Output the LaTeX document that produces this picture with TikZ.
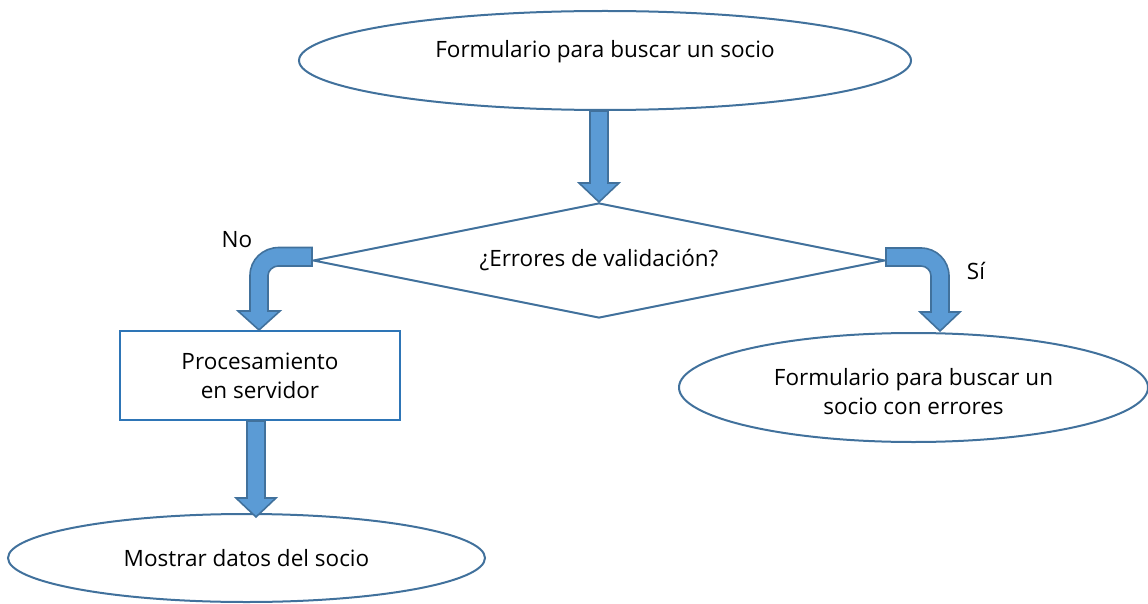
\documentclass[tikz,border=0pt]{standalone}
\usepackage{fontspec}
\setmainfont{Open Sans}
\usetikzlibrary{calc}
\usetikzlibrary{shapes.geometric}
\usepackage{xcolor}

\definecolor{lineblue}{HTML}{41719C}
\definecolor{fillblue}{HTML}{5B9BD5}
\definecolor{boxblue}{HTML}{2E75B6}

% vertical block arrow: shaft from #1 down to the tip at the height of #2
\newcommand{\blockdown}[2]{%
  \path[blockarrow] let \p1=(#1), \p2=(#2) in
    (\x1-9pt,\y1) -- (\x1-9pt,\y2+19pt) -- (\x1-20pt,\y2+19pt) -- (\x1,\y2)
    -- (\x1+20pt,\y2+19pt) -- (\x1+9pt,\y2+19pt) -- (\x1+9pt,\y1) -- cycle;}

\begin{document}
\begin{tikzpicture}[x=1pt, y=-1pt,
  every node/.style={font=\fontsize{22.5}{29}\selectfont, align=center, text=black},
  oval/.style={ellipse, draw=lineblue, line width=2pt, inner sep=0},
  decision/.style={diamond, aspect=5, draw=lineblue, line width=2pt, inner sep=0},
  process/.style={rectangle, draw=boxblue, line width=2pt, inner sep=0},
  blockarrow/.style={fill=fillblue, draw=lineblue, line width=1.6pt, line join=miter}]
\useasboundingbox (0,0) rectangle (1148,604);

\node[oval, minimum width=612pt, minimum height=99pt,
      label={[yshift=9pt]center:Formulario para buscar un socio}] (form) at (605,60.5) {};
\node[decision, minimum width=572pt, minimum height=115pt] (check) at (599,260.5) {¿Errores de validación?};
\node[process, minimum width=280pt, minimum height=89pt] (proc) at (260,375.5) {Procesamiento\\en servidor};
\node[oval, minimum width=469pt, minimum height=109pt,
      label={[yshift=-4pt]center:Formulario para buscar un\\socio con errores}] (sierr) at (913.5,387.5) {};
\node[oval, minimum width=477pt, minimum height=88pt] (show) at (246.5,558) {Mostrar datos del socio};

\node (no) at (237,240) {No};
\node (si) at (976,271) {Sí};

\blockdown{form.south -| check.north}{check.north}
\blockdown{$(proc.south)+(-4,0)$}{$(show.north)+(0,4)$}

% No: bent arrow down to the processing box
\path[blockarrow] let \p1=(check.west), \p2=(proc.north) in
  (\x1,\y1+13pt) -- (\x2+19pt,\y1+13pt)
  .. controls (\x2+3pt,\y1+13pt) and (\x2-10pt,\y1+1pt) .. (\x2-10pt,\y1-15pt)
  -- (\x2-10pt,\y2+19pt) -- (\x2-22pt,\y2+19pt) -- (\x2-1pt,\y2)
  -- (\x2+20pt,\y2+19pt) -- (\x2+8pt,\y2+19pt) -- (\x2+8pt,\y1-15pt)
  .. controls (\x2+8pt,\y1-10pt) and (\x2+13pt,\y1-5.5pt) .. (\x2+18pt,\y1-5.5pt)
  -- (\x1,\y1-5.5pt) -- cycle;

% Si: bent arrow down to the error form
\path[blockarrow] let \p1=(check.east), \p2=(sierr.north) in
  (\x1,\y1+12.5pt) -- (\x2+7.5pt,\y1+12.5pt)
  .. controls (\x2+23pt,\y1+12.5pt) and (\x2+35.5pt,\y1) .. (\x2+35.5pt,\y1-15.5pt)
  -- (\x2+35.5pt,\y2+20pt) -- (\x2+46.5pt,\y2+20pt) -- (\x2+26.5pt,\y2+1pt)
  -- (\x2+6.5pt,\y2+20pt) -- (\x2+17.5pt,\y2+20pt) -- (\x2+17.5pt,\y1-15.5pt)
  .. controls (\x2+17.5pt,\y1-10pt) and (\x2+13pt,\y1-5.5pt) .. (\x2+7.5pt,\y1-5.5pt)
  -- (\x1,\y1-5.5pt) -- cycle;

\end{tikzpicture}
\end{document}
